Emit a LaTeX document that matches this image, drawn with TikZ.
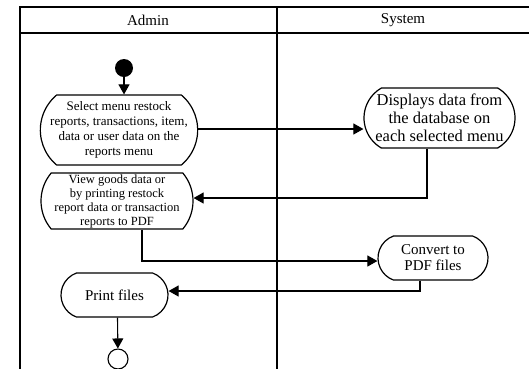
\documentclass[tikz,border=0pt]{standalone}
\usepackage{fontspec}
\setmainfont{Liberation Serif}
\usetikzlibrary{arrows.meta,shapes.misc}
\begin{document}
\begin{tikzpicture}
  [x=1pt,y=-1pt,
   font=\fontsize{15}{16}\selectfont,
   >={Triangle[length=10pt,width=11pt]},
   lane/.style={line width=1.4pt},
   activity/.style={rounded rectangle,rounded rectangle arc length=140,draw,line width=1.2pt,
                    align=center,inner sep=0pt},
   flow/.style={->,line width=1.1pt}]
  \useasboundingbox (0,0) rectangle (529,368);
  % swimlanes
  \draw [lane] (20,372) -- (20,7) -- (533,7);
  \draw [lane] (20,33) -- (533,33);
  \draw [lane] (277,7) -- (277,372);
  \node at (148,20) (admin) {Admin};
  \node at (403,20) (system) {System};
  % activities
  \node at (124,68) (start) [circle,fill,inner sep=0pt,minimum size=18pt] {};
  \node at (119,130) (select) [activity,rounded rectangle arc length=100,
      minimum width=156pt,minimum height=70pt,font=\fontsize{13}{15}\selectfont]
    {Select menu restock\\reports, transactions, item,\\data or user data on the\\reports menu};
  \node at (439.5,118) (display) [activity,rounded rectangle arc length=120,
      minimum width=151pt,minimum height=60pt,font=\fontsize{16.5}{18}\selectfont]
    {Displays data from\\the database on\\each selected menu};
  \node at (117,201) (view) [activity,rounded rectangle arc length=80,
      minimum width=152pt,minimum height=56pt,font=\fontsize{12.5}{14}\selectfont]
    {View goods data or\\by printing restock\\report data or transaction\\reports to PDF};
  \node at (433,258) (convert) [activity,minimum width=110pt,minimum height=44pt]
    {Convert to\\PDF files};
  \node at (114.5,295) (print) [activity,minimum width=107pt,minimum height=44pt]
    {Print files};
  \node at (118,359) (stop) [circle,draw,line width=1.1pt,inner sep=0pt,minimum size=20pt] {};
  % flows
  \draw [flow] (start) -- (start |- select.north);
  \draw [flow] ([yshift=1pt]select.east) -- ([yshift=1pt]select.east -| display.west);
  \draw [flow] ([xshift=-12.5pt]display.south) |- ([yshift=3pt]view.east);
  \draw [flow] ([xshift=25pt]view.south) |- ([yshift=-3pt]convert.west);
  \draw [flow] ([xshift=-13pt]convert.south) |- ([yshift=4pt]print.east);
  \draw [flow] ([xshift=3pt]print.south) -- (stop);
\end{tikzpicture}
\end{document}
